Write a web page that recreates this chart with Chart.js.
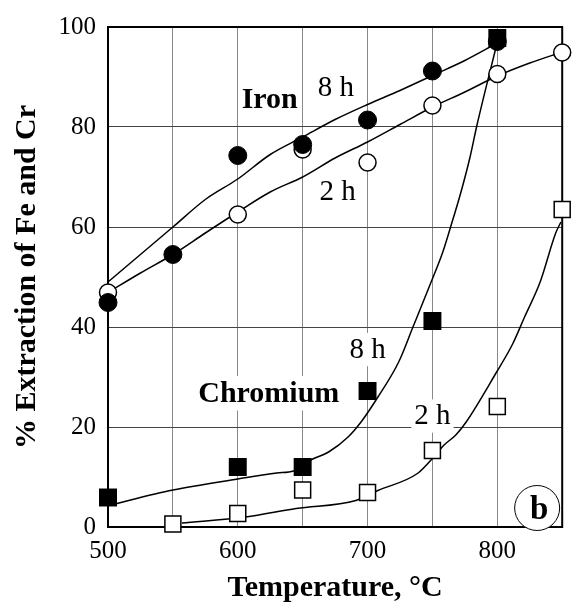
<!DOCTYPE html>
<html>
<head>
<meta charset="utf-8">
<script src="https://cdn.jsdelivr.net/npm/chart.js@4/dist/chart.umd.min.js"></script>
<style>
  html, body { margin: 0; padding: 0; background: #fff; }
  #wrap { width: 575px; height: 608px; }
</style>
</head>
<body>
<div id="wrap"><canvas id="chart" width="575" height="608"></canvas></div>
<script>
  // measured points, temperature in degC
  var temps = [500, 550, 600, 650, 700, 750, 800, 850];
  var fe8h = [44.9, 54.5, 74.3, 76.5, 81.4, 91.2, 97.1, null];
  var fe2h = [46.9, null, 62.5, 75.5, 72.9, 84.3, 90.6, 94.9];
  var cr8h = [5.9, null, 12, 12, 27.2, 41.2, 97.8, null];
  var cr2h = [null, 0.6, 2.7, 7.4, 6.9, 15.3, 24.1, 63.5];

  // fitted curves
  var fe8hFitT = [500, 525, 550, 575, 600, 625, 650, 675, 700, 725, 750, 775, 800];
  var fe8hFitV = [49, 54.5, 60, 65.5, 69.6, 74.5, 78, 81.5, 84.5, 87.3, 90.3, 93.3, 96.8];
  var fe2hFitT = [500, 525, 550, 575, 600, 625, 650, 675, 700, 725, 750, 775, 800, 825, 850];
  var fe2hFitV = [46.9, 50.8, 54.5, 58.8, 63, 67, 70, 73.8, 77, 80.5, 84, 87, 90.2, 92.8, 95];
  var cr8hFitT = [500, 550, 600, 630, 643, 657, 670, 685, 695, 708, 724, 735, 749, 758, 764, 772, 779, 784, 800];
  var cr8hFitV = [4.3, 7.4, 9.6, 10.8, 11.2, 13.5, 15, 18, 21, 26, 33, 40, 49, 55, 60, 67, 74, 80, 97];
  var cr2hFitT = [557, 606, 645, 691, 708, 739, 750, 759, 768, 776, 799, 812, 821, 833, 845, 849];
  var cr2hFitV = [0.8, 2, 3.7, 5.3, 7.3, 10.8, 13.7, 16.4, 18.4, 21, 30.8, 36.7, 42, 49, 58.8, 61];

  // text notes inside the plot (x in degC, y = baseline in %)
  var noteText = ['Iron', '8 h', '2 h', '8 h', 'Chromium', '2 h'];
  var noteX = [624.6, 675.6, 677, 700, 623.9, 750];
  var noteY = [83.9, 86.3, 65.5, 33.9, 25.1, 20.6];
  var noteBold = [true, false, false, false, true, false];

  var SERIF = "'Liberation Serif', 'Times New Roman', serif";

  function pts(xs, ys) {
    var out = [];
    for (var i = 0; i < xs.length; i++) {
      if (ys[i] !== null) out.push({ x: xs[i], y: ys[i] });
    }
    return out;
  }

  function fitLine(xs, ys) {
    return {
      data: pts(xs, ys),
      showLine: true,
      borderColor: '#000',
      borderWidth: 1.5,
      pointRadius: 0,
      cubicInterpolationMode: 'monotone',
      clip: false
    };
  }

  var notesPlugin = {
    id: 'notes',
    beforeDatasetsDraw: function (chart) {
      var ctx = chart.ctx, a = chart.chartArea;
      var xs = chart.scales.x, ys = chart.scales.y;
      ctx.save();
      // frame
      ctx.strokeStyle = '#000';
      ctx.lineWidth = 2;
      ctx.strokeRect(a.left, a.top, a.right - a.left, a.bottom - a.top);
      ctx.textAlign = 'center';
      ctx.textBaseline = 'alphabetic';
      for (var i = 0; i < noteText.length; i++) {
        var size = noteBold[i] ? 30 : 29;
        ctx.font = (noteBold[i] ? 'bold ' : '') + size + 'px ' + SERIF;
        var px = xs.getPixelForValue(noteX[i]);
        var py = ys.getPixelForValue(noteY[i]);
        var w = ctx.measureText(noteText[i]).width;
        ctx.fillStyle = '#fff';
        ctx.fillRect(px - w / 2 - 3, py - size * 0.85, w + 6, size * 1.15);
        ctx.fillStyle = '#000';
        ctx.fillText(noteText[i], px, py);
      }
      ctx.restore();
    },
    afterDatasetsDraw: function (chart) {
      var ctx = chart.ctx;
      var cx = chart.scales.x.getPixelForValue(830.7);
      var cy = chart.scales.y.getPixelForValue(3.8);
      ctx.save();
      ctx.beginPath();
      ctx.arc(cx, cy, 22.5, 0, Math.PI * 2);
      ctx.fillStyle = '#fff';
      ctx.fill();
      ctx.strokeStyle = '#000';
      ctx.lineWidth = 1;
      ctx.stroke();
      ctx.fillStyle = '#000';
      ctx.font = 'bold 33px ' + SERIF;
      ctx.textAlign = 'center';
      ctx.textBaseline = 'alphabetic';
      ctx.fillText('b', cx + 2, cy + 11);
      ctx.restore();
    }
  };

  var ctx = document.getElementById('chart').getContext('2d');
  var chart = new Chart(ctx, {
    type: 'scatter',
    data: {
      datasets: [
        { data: pts(temps, cr8h), pointStyle: 'rect', pointRadius: 12.7, pointBackgroundColor: '#000', pointBorderColor: '#000', pointBorderWidth: 0, clip: false },
        { data: pts(temps, fe8h), pointStyle: 'circle', pointRadius: 9, pointBackgroundColor: '#000', pointBorderColor: '#000', pointBorderWidth: 1, clip: false },
        { data: pts(temps, fe2h), pointStyle: 'circle', pointRadius: 8.5, pointBackgroundColor: '#fff', pointBorderColor: '#000', pointBorderWidth: 1.5, clip: false },
        { data: pts(temps, cr2h), pointStyle: 'rect', pointRadius: 11.3, pointBackgroundColor: '#fff', pointBorderColor: '#000', pointBorderWidth: 1.5, clip: false },
        fitLine(fe8hFitT, fe8hFitV),
        fitLine(fe2hFitT, fe2hFitV),
        fitLine(cr8hFitT, cr8hFitV),
        fitLine(cr2hFitT, cr2hFitV)
      ]
    },
    options: {
      responsive: false,
      animation: false,
      devicePixelRatio: 1,
      layout: { padding: { top: 17, right: 5, left: 0, bottom: 0 } },
      plugins: { legend: { display: false }, tooltip: { enabled: false } },
      scales: {
        x: {
          type: 'linear',
          min: 500,
          max: 850,
          afterFit: function (s) { s.height = 81; },
          grid: { color: '#888', lineWidth: 1, drawTicks: false },
          border: { display: false },
          ticks: {
            stepSize: 50,
            padding: 9,
            color: '#000',
            font: { family: SERIF, size: 25 },
            maxRotation: 0,
            autoSkip: false,
            callback: function (v) { return v % 100 === 0 ? String(v) : ''; }
          },
          title: {
            display: true,
            text: 'Temperature, °C',
            color: '#000',
            font: { family: SERIF, size: 30, weight: 'bold' },
            padding: { top: 0, bottom: 2 }
          }
        },
        y: {
          min: 0,
          max: 100,
          afterFit: function (s) { s.width = 108; },
          grid: { color: '#444', lineWidth: 1, drawTicks: false },
          border: { display: false },
          ticks: {
            stepSize: 20,
            padding: 12,
            color: '#000',
            font: { family: SERIF, size: 25 }
          },
          title: {
            display: true,
            text: '% Extraction of Fe and Cr',
            color: '#000',
            font: { family: SERIF, size: 30, weight: 'bold' },
            padding: { top: 9, bottom: 0 }
          }
        }
      }
    },
    plugins: [notesPlugin]
  });
</script>
</body>
</html>
